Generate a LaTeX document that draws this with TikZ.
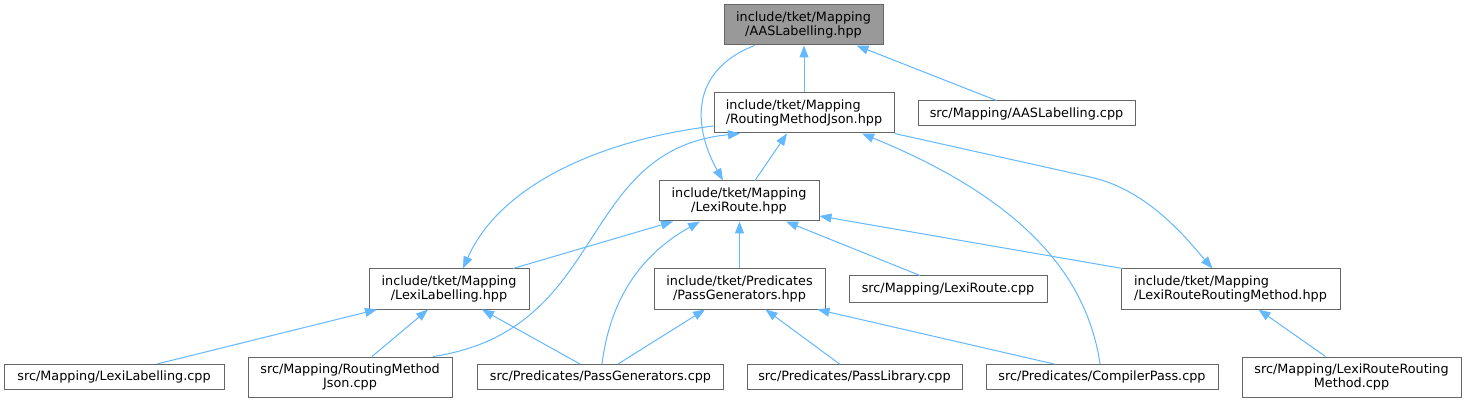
\documentclass[tikz,border=0pt]{standalone}
\usepackage{fontspec}
\setmainfont{DejaVu Sans}
\usetikzlibrary{arrows.meta}
\definecolor{edgec}{HTML}{63B8FF}
\definecolor{boxc}{HTML}{666666}
\definecolor{rootc}{HTML}{999999}
\begin{document}
\begin{tikzpicture}[x=1pt,y=-1pt,
  box/.style={draw=boxc,line width=1pt,fill=white,inner sep=0pt,
    font=\fontsize{12.8}{14}\selectfont,text=black},
  edge/.style={draw=edgec,line width=1pt,-{Triangle[length=12pt,width=9pt]}},
]
\fill[white] (0,0) rectangle (1469,403);
\useasboundingbox (0,0) rectangle (1469,403);

\node[box,fill=rootc,minimum width=159pt,minimum height=40pt,align=center] (root) at (803.5,25) {include/tket/Mapping\\/AASLabelling.hpp};
\node[box,minimum width=180pt,minimum height=40pt,align=left] (rmj) at (804,113) {include/tket/Mapping\\/RoutingMethodJson.hpp};
\node[box,minimum width=217pt,minimum height=25pt] (aascpp) at (1026.5,113.5) {src/Mapping/AASLabelling.cpp};
\node[box,minimum width=160pt,minimum height=40pt,align=center] (lr) at (739,201) {include/tket/Mapping\\/LexiRoute.hpp};
\node[box,minimum width=160pt,minimum height=40pt,align=center] (ll) at (449,289) {include/tket/Mapping\\/LexiLabelling.hpp};
\node[box,minimum width=171pt,minimum height=40pt,align=center] (pg) at (739.5,289) {include/tket/Predicates\\/PassGenerators.hpp};
\node[box,minimum width=198pt,minimum height=26pt] (lrcpp) at (948,289) {src/Mapping/LexiRoute.cpp};
\node[box,minimum width=219pt,minimum height=40pt,align=left] (lrrm) at (1230.5,289) {include/tket/Mapping\\/LexiRouteRoutingMethod.hpp};
\node[box,minimum width=220pt,minimum height=25pt] (llcpp) at (114,377) {src/Mapping/LexiLabelling.cpp};
\node[box,minimum width=204pt,minimum height=40pt,align=center] (rmjcpp) at (350,377) {src/Mapping/RoutingMethod\\Json.cpp};
\node[box,minimum width=246pt,minimum height=25pt] (pgcpp) at (600.5,377) {src/Predicates/PassGenerators.cpp};
\node[box,minimum width=215pt,minimum height=25pt] (plcpp) at (854.5,377) {src/Predicates/PassLibrary.cpp};
\node[box,minimum width=232pt,minimum height=25pt] (cpcpp) at (1102,377) {src/Predicates/CompilerPass.cpp};
\node[box,minimum width=219pt,minimum height=40pt,align=center] (lrrmcpp) at (1351.5,377) {src/Mapping/LexiRouteRouting\\Method.cpp};

% edges
\draw[edge] (rmj.north) -- (rmj.north |- root.south);
\draw[edge] ([xshift=-30pt]aascpp.north) -- ([xshift=53pt]root.south);
\draw[edge] ([xshift=-49pt]root.south) .. controls (680,75) and (700,140) .. ([xshift=-16pt]lr.north);
\draw[edge] ([xshift=16pt]lr.north) -- ([xshift=-17pt]rmj.south);
\draw[edge] ([yshift=-13pt]rmj.west) .. controls (600,140) and (500,185) .. ([xshift=14pt]ll.north);
\draw[edge] ([xshift=83pt]rmjcpp.north) .. controls (610,330) and (575,150) .. ([xshift=-64pt]rmj.south);
\draw[edge] ([xshift=-2pt]cpcpp.north) .. controls (1085,260) and (1000,190) .. ([xshift=58pt]rmj.south);
\draw[edge] (rmj.south east) -- (1090,177) .. controls (1150,190) and (1190,243) .. ([xshift=-18pt]lrrm.north);
\draw[edge] ([xshift=64pt]ll.north) -- ([xshift=-66pt]lr.south);
\draw[edge] ([xshift=1.5pt]pgcpp.north) .. controls (610,300) and (640,255) .. ([xshift=-39pt]lr.south);
\draw[edge] (pg.north) -- (pg.north |- lr.south);
\draw[edge] ([xshift=-28pt]lrcpp.north) -- ([xshift=47pt]lr.south);
\draw[edge] ([xshift=2pt]lrrm.north west) -- ([yshift=-15pt]lr.east);
\draw[edge] ([xshift=43pt]llcpp.north) -- ([xshift=-72pt]ll.south);
\draw[edge] ([xshift=22pt]rmjcpp.north) -- ([xshift=-21pt]ll.south);
\draw[edge] ([xshift=-20.5pt]pgcpp.north) -- ([xshift=33pt]ll.south);
\draw[edge] ([xshift=17.5pt]pgcpp.north) -- ([xshift=-34.5pt]pg.south);
\draw[edge] ([xshift=-15pt]plcpp.north) -- ([xshift=26pt]pg.south);
\draw[edge] ([xshift=-48pt]cpcpp.north) -- ([xshift=78pt]pg.south);
\draw[edge] ([xshift=-26pt]lrrmcpp.north) -- ([xshift=28pt]lrrm.south);
\end{tikzpicture}
\end{document}
